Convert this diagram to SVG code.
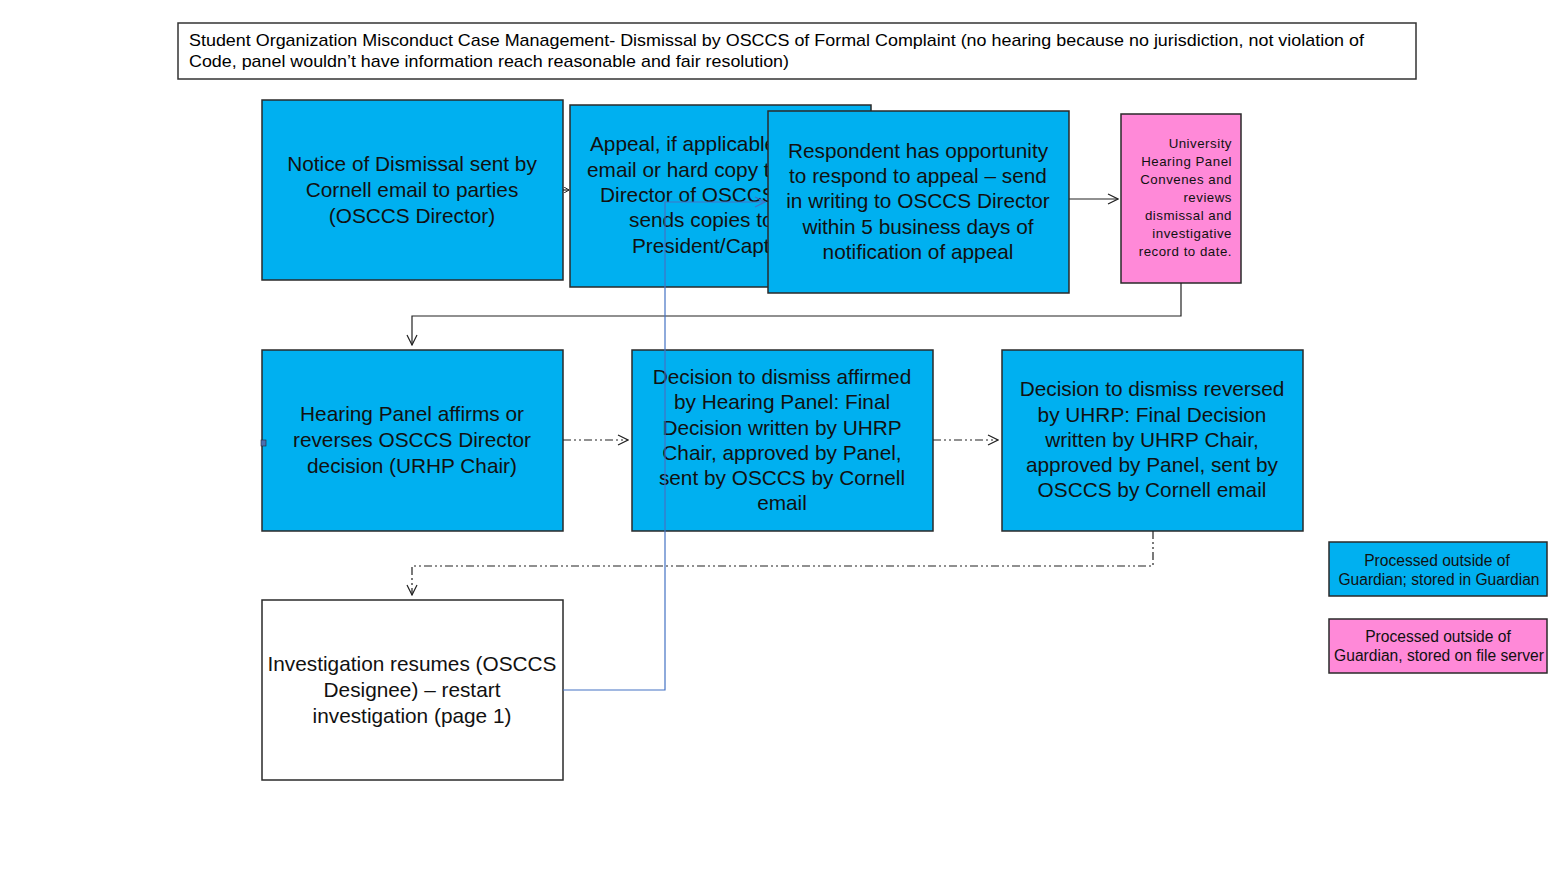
<svg xmlns="http://www.w3.org/2000/svg" width="1560" height="881" viewBox="0 0 1560 881">
<defs>
<style>
.box{fill:#00B0F0;stroke:#2a2a2a;stroke-width:1.5}
.pink{fill:#FF89D8;stroke:#2a2a2a;stroke-width:1.5}
.white{fill:#fff;stroke:#2a2a2a;stroke-width:1.5}
.t{font-family:"Liberation Sans",Arial,sans-serif;font-size:20.8px;fill:#111;text-anchor:middle}
.ts{font-family:"Liberation Sans",Arial,sans-serif;font-size:13.3px;letter-spacing:0.5px;fill:#111;text-anchor:end}
.tl{font-family:"Liberation Sans",Arial,sans-serif;font-size:15.6px;fill:#111;text-anchor:middle}
.title{font-family:"Liberation Sans",Arial,sans-serif;font-size:17px;fill:#000}
.c{fill:none;stroke:#222;stroke-width:1.2}
.dd{fill:none;stroke:#222;stroke-width:1.2;stroke-dasharray:8 3 2 3 2 3}
.blue{fill:none;stroke:#4472C4;stroke-width:1.2}
</style>
<marker id="ar" markerWidth="12" markerHeight="12" refX="11" refY="6" orient="auto" markerUnits="userSpaceOnUse">
<path d="M1,1 L11,6 L1,11" fill="none" stroke="#222" stroke-width="1.2"/>
</marker>
<marker id="arb" markerWidth="12" markerHeight="12" refX="11" refY="6" orient="auto" markerUnits="userSpaceOnUse">
<path d="M1,1 L11,6 L1,11" fill="none" stroke="#4472C4" stroke-width="1.2"/>
</marker>
<marker id="ars" markerWidth="6" markerHeight="6" refX="5" refY="3" orient="auto" markerUnits="userSpaceOnUse">
<path d="M0,0 L5,3 L0,6" fill="none" stroke="#222" stroke-width="1"/>
</marker>
</defs>
<rect width="1560" height="881" fill="#fff"/>

<g id="title">
<rect x="178" y="23" width="1238" height="56" fill="#fff" stroke="#333" stroke-width="1.5"/>
<text class="title" x="189" y="46" textLength="1175" lengthAdjust="spacingAndGlyphs">Student Organization Misconduct Case Management- Dismissal by OSCCS of Formal Complaint (no hearing because no jurisdiction, not violation  of</text>
<text class="title" x="189" y="67" textLength="600" lengthAdjust="spacingAndGlyphs">Code, panel wouldn’t have information reach reasonable and fair resolution)</text>
</g>

<g id="notice">
<rect class="box" x="262" y="100" width="301" height="180"/>
<text class="t" x="412" y="171">Notice of Dismissal sent by</text>
<text class="t" x="412" y="197">Cornell email to parties</text>
<text class="t" x="412" y="223">(OSCCS Director)</text>
</g>

<g id="appeal">
<rect class="box" x="570" y="105" width="301" height="182"/>
<text class="t" x="590" y="151" style="text-anchor:start">Appeal, if applicable,</text>
<text class="t" x="587" y="177" style="text-anchor:start">email or hard copy to</text>
<text class="t" x="600" y="202" style="text-anchor:start">Director of OSCCS,</text>
<text class="t" x="629" y="227" style="text-anchor:start">sends copies to</text>
<text class="t" x="632" y="253" style="text-anchor:start">President/Captain</text>
</g>

<g id="respondent">
<rect class="box" x="768" y="111" width="301" height="182"/>
<text class="t" x="918" y="158">Respondent has opportunity</text>
<text class="t" x="918" y="183">to respond to appeal – send</text>
<text class="t" x="918" y="208">in writing to OSCCS Director</text>
<text class="t" x="918" y="234">within 5 business days of</text>
<text class="t" x="918" y="259">notification of appeal</text>
</g>

<g id="uhp">
<rect class="pink" x="1121" y="114" width="120" height="169"/>
<text class="ts" x="1232" y="148">University</text>
<text class="ts" x="1232" y="166">Hearing Panel</text>
<text class="ts" x="1232" y="184">Convenes and</text>
<text class="ts" x="1232" y="202">reviews</text>
<text class="ts" x="1232" y="220">dismissal and</text>
<text class="ts" x="1232" y="238">investigative</text>
<text class="ts" x="1232" y="256">record to date.</text>
</g>

<g id="hearing">
<rect class="box" x="262" y="350" width="301" height="181"/>
<text class="t" x="412" y="421">Hearing Panel affirms or</text>
<text class="t" x="412" y="447">reverses OSCCS Director</text>
<text class="t" x="412" y="473">decision (URHP Chair)</text>
<rect x="261" y="440" width="5" height="6" fill="#4a6fb0" stroke="#223" stroke-width="0.6"/>
</g>

<g id="affirmed">
<rect class="box" x="632" y="350" width="301" height="181"/>
<text class="t" x="782" y="384">Decision to dismiss affirmed</text>
<text class="t" x="782" y="409">by Hearing Panel: Final</text>
<text class="t" x="782" y="435">Decision written by UHRP</text>
<text class="t" x="782" y="460">Chair, approved by Panel,</text>
<text class="t" x="782" y="485">sent by OSCCS by Cornell</text>
<text class="t" x="782" y="510">email</text>
</g>

<g id="reversed">
<rect class="box" x="1002" y="350" width="301" height="181"/>
<text class="t" x="1152" y="396">Decision to dismiss reversed</text>
<text class="t" x="1152" y="422">by UHRP: Final Decision</text>
<text class="t" x="1152" y="447">written by UHRP Chair,</text>
<text class="t" x="1152" y="472">approved by Panel,  sent by</text>
<text class="t" x="1152" y="497">OSCCS by Cornell email</text>
</g>

<g id="investigation">
<rect class="white" x="262" y="600" width="301" height="180"/>
<text class="t" x="412" y="671">Investigation resumes (OSCCS</text>
<text class="t" x="412" y="697">Designee) – restart</text>
<text class="t" x="412" y="723">investigation (page 1)</text>
</g>

<g id="legend-blue">
<rect class="box" x="1329" y="542" width="218" height="54"/>
<text class="tl" x="1437" y="566">Processed outside of</text>
<text class="tl" x="1439" y="585">Guardian;  stored in Guardian</text>
</g>

<g id="legend-pink">
<rect class="pink" x="1329" y="619" width="218" height="54"/>
<text class="tl" x="1438" y="642">Processed outside of</text>
<text class="tl" x="1439" y="661">Guardian,  stored on file server</text>
</g>

<g id="connectors">
<path class="c" d="M563,190 L569,190" marker-end="url(#ars)"/>
<path class="c" d="M1069,199 L1118,199" marker-end="url(#ar)"/>
<path class="c" d="M1181,283 L1181,316 L412,316 L412,345" marker-end="url(#ar)"/>
<path class="dd" d="M563,440 L628,440" marker-end="url(#ar)"/>
<path class="dd" d="M933,440 L998,440" marker-end="url(#ar)"/>
<path class="dd" d="M1153,531 L1153,566 L412,566 L412,595" marker-end="url(#ar)"/>
<path class="blue" d="M563,690 L665,690 L665,202 L765,202" marker-end="url(#arb)"/>
</g>
</svg>
